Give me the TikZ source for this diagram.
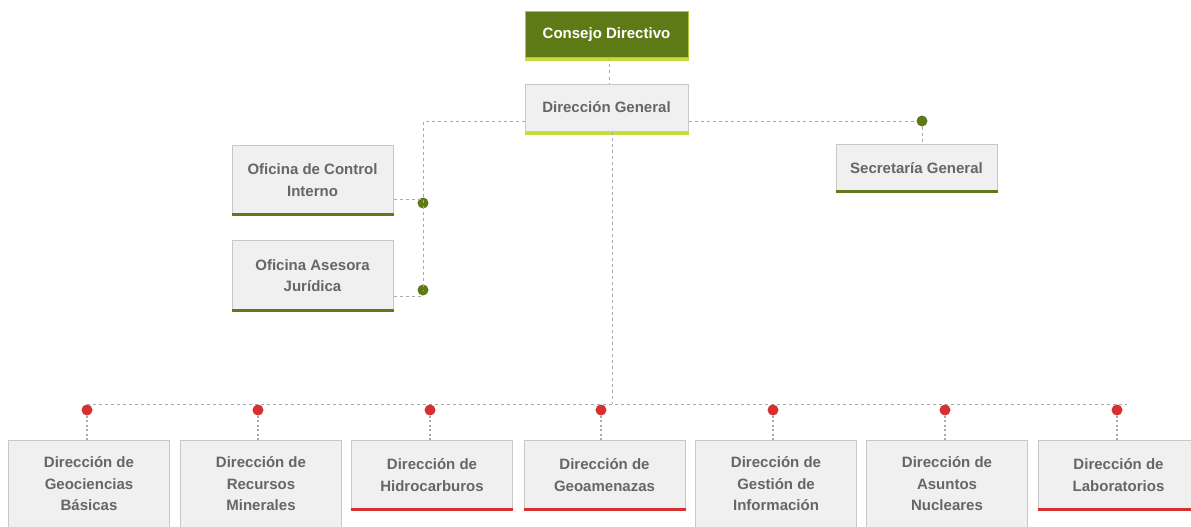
\documentclass[tikz,border=0pt]{standalone}
\usepackage{fontspec}
\setmainfont{Liberation Sans}
\definecolor{dkgreen}{HTML}{5E7A16}
\definecolor{ltgreen}{HTML}{C5DC3A}
\definecolor{boxfill}{HTML}{F0F0F0}
\definecolor{boxline}{HTML}{C8C8C8}
\definecolor{txtgray}{HTML}{666666}
\definecolor{redc}{HTML}{D63031}
\definecolor{linec}{HTML}{AAAAAA}
\tikzset{
  unitbox/.style={draw=boxline, fill=boxfill, line width=1pt, minimum width=161pt, align=center,
    text=txtgray, font=\fontsize{15}{21.5}\selectfont\bfseries, inner sep=0pt},
  conn/.style={draw=linec, line width=1pt, dash pattern=on 3pt off 3pt},
  gdot/.style={circle, fill=dkgreen, minimum size=11pt, inner sep=0pt},
  rdot/.style={circle, fill=redc, minimum size=11pt, inner sep=0pt},
}
\begin{document}
\begin{tikzpicture}[x=1pt,y=-1pt]
\useasboundingbox (0,0) rectangle (1191,527);
\clip (0,0) rectangle (1191,527);
% top
\node[unitbox, fill=dkgreen, draw=ltgreen!80!dkgreen, text=white, minimum width=163pt, minimum height=46pt] (cd) at (606.5,35) {Consejo Directivo};
\draw[ltgreen, line width=3pt] ([yshift=-1.5pt]cd.south west) -- ([yshift=-1.5pt]cd.south east);
\node[unitbox, minimum width=163pt, minimum height=47pt, text depth=2pt] (dg) at (606.5,107.5) {Dirección General};
\draw[ltgreen, line width=3pt] ([yshift=-1.5pt]dg.south west) -- ([yshift=-1.5pt]dg.south east);
\draw[conn] (cd.south -| 609,0) -- (dg.north -| 609,0);
% left offices
\node[unitbox, minimum height=70pt] (oci) at (312.5,180) {Oficina de Control\\Interno};
\draw[dkgreen, line width=3pt] ([yshift=1.5pt]oci.south west) -- ([yshift=1.5pt]oci.south east);
\node[unitbox, minimum height=71pt] (oaj) at (312.5,275.5) {Oficina Asesora\\Jurídica};
\draw[dkgreen, line width=3pt] ([yshift=1.5pt]oaj.south west) -- ([yshift=1.5pt]oaj.south east);
% secretaria
\node[unitbox, minimum height=48pt] (sg) at (916.5,168) {Secretaría General};
\draw[dkgreen, line width=3pt] ([yshift=1.5pt]sg.south west) -- ([yshift=1.5pt]sg.south east);
% connectors
\coordinate (lc) at (423,121);
\coordinate (rc) at (922,121);
\node[gdot] (d1) at (423,203) {};
\node[gdot] (d2) at (423,290) {};
\node[gdot] (d3) at (922,121) {};
\draw[conn] (dg.west |- lc) -- (lc) -- (d2.center);
\draw[conn] (oci.east |- 0,199) -- (d1.center |- 0,199);
\draw[conn] (oaj.east |- 0,296) -- (d2.center |- 0,296);
\draw[conn] (dg.east |- rc) -- (d3);
\draw[conn] (d3) -- (sg.north -| d3);
\coordinate (bl) at (87,404);
\coordinate (br) at (1127,404);
\draw[conn] (dg.south -| 612,0) -- (612,404);
\draw[conn] (bl) -- (br);
% bottom boxes
\foreach \i/\x/\dx/\txt/\lines in {
  a/89/87/{Dirección de\\Geociencias\\Básicas}/3,
  b/261/258/{Dirección de\\Recursos\\Minerales}/3,
  c/432/430/{Dirección de\\Hidrocarburos}/2,
  d/604.5/601/{Dirección de\\Geoamenazas}/2,
  e/776/773/{Dirección de\\Gestión de\\Información}/3,
  f/947/945/{Dirección de\\Asuntos\\Nucleares}/3,
  g/1118.5/1117/{Dirección de\\Laboratorios}/2}{
  \ifnum\lines=3
    \node[unitbox, minimum height=88pt] (b\i) at (\x,484) {\txt};
  \else
    \node[unitbox, minimum height=70pt] (b\i) at (\x,475) {\txt};
  \fi
  \node[rdot] (r\i) at (\dx,410) {};
  \draw[conn, dash pattern=on 2pt off 2.5pt, line width=1.5pt] (r\i) -- (b\i.north -| r\i);
}
\foreach \i in {c,d,g}{
  \draw[redc, line width=3pt] ([yshift=1.5pt]b\i.south west) -- ([yshift=1.5pt]b\i.south east);
}
\end{tikzpicture}
\end{document}
